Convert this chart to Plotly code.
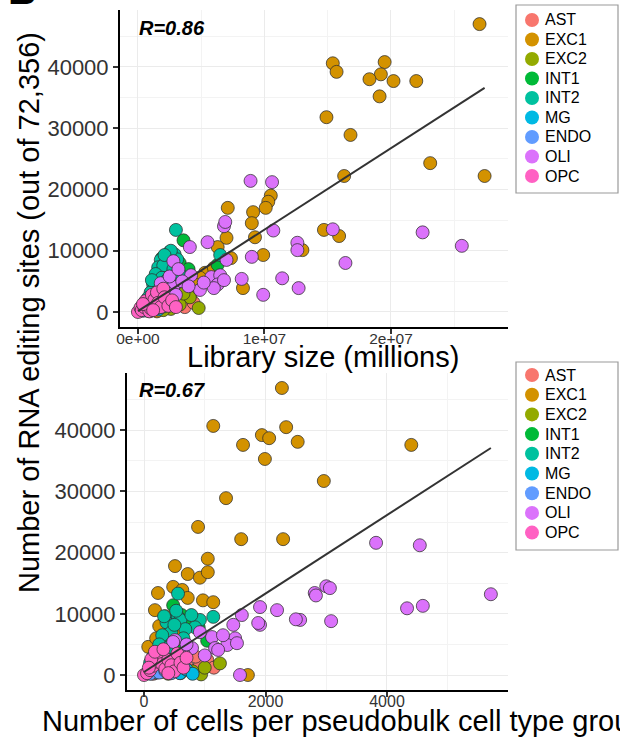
import plotly.graph_objects as go

# ---------------- DATA ----------------
cell_types = ["AST", "EXC1", "EXC2", "INT1", "INT2", "MG", "ENDO", "OLI", "OPC"]
type_colors = ["#F8766D", "#D39200", "#93AA00", "#00BA38", "#00C19F",
               "#00B9E3", "#619CFF", "#DB72FB", "#FF61C3"]

# Panel 1: library size vs number of editing sites
AST_lib = [0.8e6, 1.3e6, 2.0e6, 2.6e6, 3.2e6, 3.7e6, 2.9e6, 4.4e6, 1.7e6]
AST_lib_sites = [200, 400, 600, 1200, 1800, 800, 2600, 1500, 1000]

EXC1_lib = [2.70e7, 1.95e7, 1.54e7, 1.57e7, 1.92e7, 1.83e7, 2.02e7, 2.20e7, 1.91e7, 1.49e7,
            1.68e7, 2.31e7, 2.74e7, 1.63e7, 1.05e7, 1.03e7, 1.01e7, 7.1e6, 9.1e6, 9.0e6,
            9.25e6, 1.47e7, 1.59e7, 7.0e6, 6.3e6, 1.30e7, 9.9e6, 7.35e6, 8.3e6, 5.3e6,
            4.9e6, 4.5e6, 3.8e6, 3.0e6, 6.0e6, 5.6e6, 4.2e6, 1.5e6]
EXC1_lib_sites = [47000, 40800, 40600, 39200, 38800, 38000, 37700, 37700, 35200, 31800,
                  28900, 24300, 22200, 22200, 19000, 18000, 17000, 17000, 16300, 14500,
                  12200, 13400, 12400, 12100, 10600, 10100, 9300, 8800, 3900, 6400,
                  5600, 4500, 3500, 2500, 7200, 5000, 3000, 100]

EXC2_lib = [4.8e6, 4.1e6, 3.3e6, 2.6e6, 2.0e6, 1.5e6, 1.0e6, 3.6e6]
EXC2_lib_sites = [650, 2400, 1200, 500, 300, 800, 200, 3000]

INT1_lib = [3.6e6, 3.3e6, 6.3e6, 2.8e6, 2.2e6, 1.6e6, 2.5e6, 3.0e6, 1.0e6, 4.0e6, 1.9e6]
INT1_lib_sites = [11700, 8000, 7700, 9200, 6500, 4000, 3000, 5500, 1500, 7000, 8800]

INT2_lib = [3.0e6, 2.5e6, 2.9e6, 2.7e6, 3.1e6, 1.8e6, 2.2e6, 1.6e6, 2.4e6, 2.0e6,
            2.8e6, 1.4e6, 1.9e6, 2.3e6, 1.2e6, 1.6e6, 1.0e6, 0.8e6, 0.5e6, 6.5e6,
            3.3e6, 1.1e6, 2.6e6, 2.1e6]
INT2_lib_sites = [13400, 9800, 9400, 8900, 8600, 8500, 8100, 7300, 6900, 7600,
                  7000, 6200, 5600, 5200, 4500, 3800, 3200, 2300, 1400, 9300,
                  6200, 5200, 10000, 9300]

MG_lib = [0.3e6, 0.8e6, 1.2e6, 1.6e6, 2.0e6, 1.0e6, 2.4e6]
MG_lib_sites = [300, 500, 1000, 400, 900, 1600, 1300]

ENDO_lib = [0.4e6, 0.9e6, 1.5e6, 0.6e6]
ENDO_lib_sites = [200, 300, 600, 900]

OLI_lib = [8.9e6, 1.06e7, 6.8e6, 6.9e6, 5.5e6, 4.1e6, 1.07e7, 1.54e7, 2.25e7, 2.56e7,
           1.64e7, 1.26e7, 1.26e7, 9.0e6, 8.2e6, 1.14e7, 1.27e7, 9.9e6, 7.0e6, 1.8e6,
           2.8e6, 4.2e6, 4.9e6, 5.8e6, 6.5e6, 6.3e6, 6.0e6, 3.5e6, 2.2e6, 3.0e6,
           2.5e6, 1.3e6, 4.0e6, 5.2e6, 6.8e6, 2.8e6, 3.2e6]
OLI_lib_sites = [21400, 21200, 14000, 14700, 11400, 10600, 13300, 13500, 13000, 10800,
                 8000, 11300, 10100, 9000, 5400, 5500, 3900, 2800, 8500, 4700,
                 4100, 6000, 3600, 5700, 6000, 4500, 3900, 5000, 3300, 2800,
                 5800, 2500, 4200, 4800, 5200, 8300, 7000]

OPC_lib = [0, 0.2e6, 0.3e6, 0.5e6, 0.6e6, 0.8e6, 0.9e6, 1.0e6, 1.1e6, 1.3e6,
           1.5e6, 1.6e6, 1.8e6, 2.0e6, 2.1e6, 2.4e6, 2.7e6, 3.0e6, 0.4e6, 1.2e6]
OPC_lib_sites = [0, 700, 300, 800, 1800, 1200, 100, 600, 2800, 2000,
                 3200, 1500, 800, 3800, 2400, 1000, 1900, 800, 1300, 300]

# Panel 2: number of cells per pseudobulk group vs number of editing sites
AST_cells = [1000, 1040, 920, 700, 500, 300, 150, 850, 1150]
AST_cells_sites = [2000, 2500, 1600, 1500, 1000, 500, 200, 3000, 1200]

EXC1_cells = [2270, 1140, 2340, 1940, 2060, 2530, 1630, 4400, 1990, 2960,
              1350, 890, 1600, 2290, 1050, 510, 720, 920, 1050, 480,
              230, 630, 720, 970, 1140, 180, 70, 1710, 250, 200,
              350, 400, 600]
EXC1_cells_sites = [46900, 40700, 40500, 39200, 38700, 38100, 37600, 37600, 35300, 31700,
                    28900, 24200, 22200, 22200, 19000, 17800, 16500, 15900, 16800, 14400,
                    13400, 13900, 12600, 12200, 11900, 10600, 4600, 0, 8000, 6000,
                    9600, 3000, 7500]

EXC2_cells = [940, 1250, 800, 600, 400, 1000, 200]
EXC2_cells_sites = [100, 1900, 600, 300, 200, 1200, 400]

INT1_cells = [480, 1040, 700, 400, 250, 900, 550, 150, 620]
INT1_cells_sites = [11400, 5600, 8000, 6000, 3500, 7800, 4500, 1500, 9800]

INT2_cells = [560, 380, 370, 560, 600, 920, 1140, 840, 680, 450,
              300, 500, 250, 400, 150, 100, 650, 780, 530, 330]
INT2_cells_sites = [13300, 9000, 8600, 9500, 9000, 9000, 9500, 7800, 7500, 7000,
                    6500, 8200, 5000, 4500, 3000, 2000, 6000, 9800, 10500, 9600]

MG_cells = [590, 400, 200, 700, 500, 300, 800]
MG_cells_sites = [300, 600, 400, 900, 1500, 1000, 200]

ENDO_cells = [100, 250, 350, 450]
ENDO_cells_sites = [200, 400, 700, 300]

OLI_cells = [3820, 4540, 5710, 3000, 3060, 2810, 2830, 4330, 4590, 3080,
             2570, 2190, 2500, 1910, 1910, 1610, 1880, 1470, 1500, 1370,
             1120, 920, 1170, 790, 510, 1580, 1530, 1220, 480, 650,
             300, 1000, 1300, 700]
OLI_cells_sites = [21600, 21200, 13200, 14500, 14200, 13400, 13000, 10900, 11300, 8800,
                   9000, 10600, 9100, 11100, 8200, 9800, 8500, 8200, 6000, 4900,
                   6200, 7000, 4400, 4400, 5700, 0, 5200, 4100, 5400, 3500,
                   2500, 3200, 6500, 5000]

OPC_cells = [0, 50, 100, 150, 200, 250, 300, 350, 400, 450,
             500, 550, 600, 650, 120, 180, 700, 320, 80, 400]
OPC_cells_sites = [0, 300, 800, 1500, 2200, 3000, 1800, 1000, 2500, 1600,
                   600, 3500, 2000, 1200, 2600, 3800, 2800, 4200, 1200, 300]

# Linear fits (endpoints)
fit_lib_x = [0, 2.74e7]
fit_lib_y = [150, 36600]
fit_cells_x = [0, 5710]
fit_cells_y = [490, 37100]

r_labels = ["R=0.86", "R=0.67"]

y_ticks = [0, 10000, 20000, 30000, 40000]
y_tick_labels = ["0", "10000", "20000", "30000", "40000"]
lib_ticks = [0, 1e7, 2e7]
lib_tick_labels = ["0e+00", "1e+07", "2e+07"]
cells_ticks = [0, 2000, 4000]
cells_tick_labels = ["0", "2000", "4000"]

x1_title = "Library size (millions)"
x2_title = "Number of cells per pseudobulk cell type group"
y_title = "Number of RNA editing sites (out of 72,356)"

# ---------------- FIGURE ----------------
W, H = 620, 748
FONT = "Liberation Sans, Arial, Helvetica, sans-serif"

def px(x):
    return x / W

def py(y):
    return 1 - y / H

panel1 = {
    "AST": (AST_lib, AST_lib_sites), "EXC1": (EXC1_lib, EXC1_lib_sites),
    "EXC2": (EXC2_lib, EXC2_lib_sites), "INT1": (INT1_lib, INT1_lib_sites),
    "INT2": (INT2_lib, INT2_lib_sites), "MG": (MG_lib, MG_lib_sites),
    "ENDO": (ENDO_lib, ENDO_lib_sites), "OLI": (OLI_lib, OLI_lib_sites),
    "OPC": (OPC_lib, OPC_lib_sites),
}
panel2 = {
    "AST": (AST_cells, AST_cells_sites), "EXC1": (EXC1_cells, EXC1_cells_sites),
    "EXC2": (EXC2_cells, EXC2_cells_sites), "INT1": (INT1_cells, INT1_cells_sites),
    "INT2": (INT2_cells, INT2_cells_sites), "MG": (MG_cells, MG_cells_sites),
    "ENDO": (ENDO_cells, ENDO_cells_sites), "OLI": (OLI_cells, OLI_cells_sites),
    "OPC": (OPC_cells, OPC_cells_sites),
}

fig = go.Figure()

for panel, xa, ya in [(panel1, "x", "y"), (panel2, "x2", "y2")]:
    for name, col in zip(cell_types, type_colors):
        xs, ys = panel[name]
        fig.add_trace(go.Scatter(
            x=xs, y=ys, mode="markers", name=name, showlegend=False,
            xaxis=xa, yaxis=ya,
            marker=dict(size=13, color=col,
                        line=dict(color="rgba(45,45,45,0.75)", width=1)),
            hoverinfo="skip"))

fig.add_trace(go.Scatter(x=fit_lib_x, y=fit_lib_y, mode="lines", showlegend=False,
                         xaxis="x", yaxis="y", line=dict(color="#333333", width=2)))
fig.add_trace(go.Scatter(x=fit_cells_x, y=fit_cells_y, mode="lines", showlegend=False,
                         xaxis="x2", yaxis="y2", line=dict(color="#333333", width=2)))

axis_common = dict(
    showline=True, linecolor="black", linewidth=2, mirror=False,
    ticks="outside", ticklen=5, tickwidth=1.5, tickcolor="#333333",
    showgrid=True, gridcolor="#ebebeb", gridwidth=1, zeroline=False,
    automargin=False,
)

fig.update_layout(
    width=W, height=H, autosize=False,
    margin=dict(l=0, r=0, t=0, b=0, pad=0),
    paper_bgcolor="white", plot_bgcolor="white",
    font=dict(family=FONT, color="black"),
    xaxis=dict(axis_common, domain=[px(120), px(508)], range=[-1.42e6, 2.925e7],
               tickvals=lib_ticks, ticktext=lib_tick_labels,
               tickfont=dict(size=15.5, color="#333333"), ticklabelstandoff=-9,
               minor=dict(showgrid=True, gridcolor="#f3f3f3", tickvals=[5e6, 1.5e7, 2.5e7]),
               anchor="y"),
    yaxis=dict(axis_common, domain=[py(327), py(10)], range=[-2450, 49300],
               tickvals=y_ticks, ticktext=y_tick_labels,
               tickfont=dict(size=22, color="#333333"),
               minor=dict(showgrid=True, gridcolor="#f3f3f3", tickvals=[5000, 15000, 25000, 35000, 45000]),
               anchor="x"),
    xaxis2=dict(axis_common, domain=[px(127), px(508)], range=[-280, 5992],
                tickvals=cells_ticks, ticktext=cells_tick_labels,
                tickfont=dict(size=16, color="#333333"), ticklabelstandoff=-9,
                minor=dict(showgrid=True, gridcolor="#f3f3f3", tickvals=[1000, 3000, 5000]),
                anchor="y2"),
    yaxis2=dict(axis_common, domain=[py(690), py(373)], range=[-2450, 49350],
                tickvals=y_ticks, ticktext=y_tick_labels,
                tickfont=dict(size=22, color="#333333"),
                minor=dict(showgrid=True, gridcolor="#f3f3f3", tickvals=[5000, 15000, 25000, 35000, 45000]),
                anchor="x2"),
)

annotations = []
shapes = []

# R labels
annotations.append(dict(text="<b><i>" + r_labels[0] + "</i></b>", xref="paper", yref="paper",
                        x=px(137), y=py(28), xanchor="left", yanchor="middle",
                        showarrow=False, font=dict(size=20, color="black")))
annotations.append(dict(text="<b><i>" + r_labels[1] + "</i></b>", xref="paper", yref="paper",
                        x=px(137), y=py(390), xanchor="left", yanchor="middle",
                        showarrow=False, font=dict(size=20, color="black")))

# Axis titles
annotations.append(dict(text=x1_title, xref="paper", yref="paper", x=px(323), y=py(357),
                        xanchor="center", yanchor="middle", showarrow=False,
                        font=dict(size=29, color="black")))
annotations.append(dict(text=x2_title, xref="paper", yref="paper", x=px(40), y=py(721),
                        xanchor="left", yanchor="middle", showarrow=False,
                        font=dict(size=29, color="black")))
annotations.append(dict(text=y_title, xref="paper", yref="paper", x=px(29), y=py(313),
                        xanchor="center", yanchor="middle", showarrow=False, textangle=-90,
                        font=dict(size=29, color="black")))

# Panel letter (cut off at top)
annotations.append(dict(text="<b>B</b>", xref="paper", yref="paper", x=px(6), y=py(-10),
                        xanchor="left", yanchor="middle", showarrow=False,
                        font=dict(size=40, color="black")))

# Legends (drawn manually so the layout matches)
for (bx0, by0, bx1, by1, first_y, step) in [(516, 5, 618, 193, 20, 19.5),
                                              (516, 362, 618, 550, 375, 19.7)]:
    shapes.append(dict(type="rect", xref="paper", yref="paper",
                       x0=px(bx0), x1=px(bx1), y0=py(by1), y1=py(by0),
                       line=dict(color="#9a9a9a", width=1.2), fillcolor="white", layer="below"))
    for i, (name, col) in enumerate(zip(cell_types, type_colors)):
        cy = first_y + i * step
        shapes.append(dict(type="circle", xref="paper", yref="paper",
                           xsizemode="pixel", ysizemode="pixel",
                           xanchor=px(532), yanchor=py(cy),
                           x0=-7, x1=7, y0=-7, y1=7,
                           fillcolor=col, line=dict(width=0)))
        annotations.append(dict(text=name, xref="paper", yref="paper",
                                x=px(543), y=py(cy), xanchor="left", yanchor="middle",
                                showarrow=False, font=dict(size=16, color="black")))

fig.update_layout(annotations=annotations, shapes=shapes)

fig.write_html("out.html", config={"displayModeBar": False},
               post_script="document.body.style.margin='0';document.body.style.overflow='hidden';")
